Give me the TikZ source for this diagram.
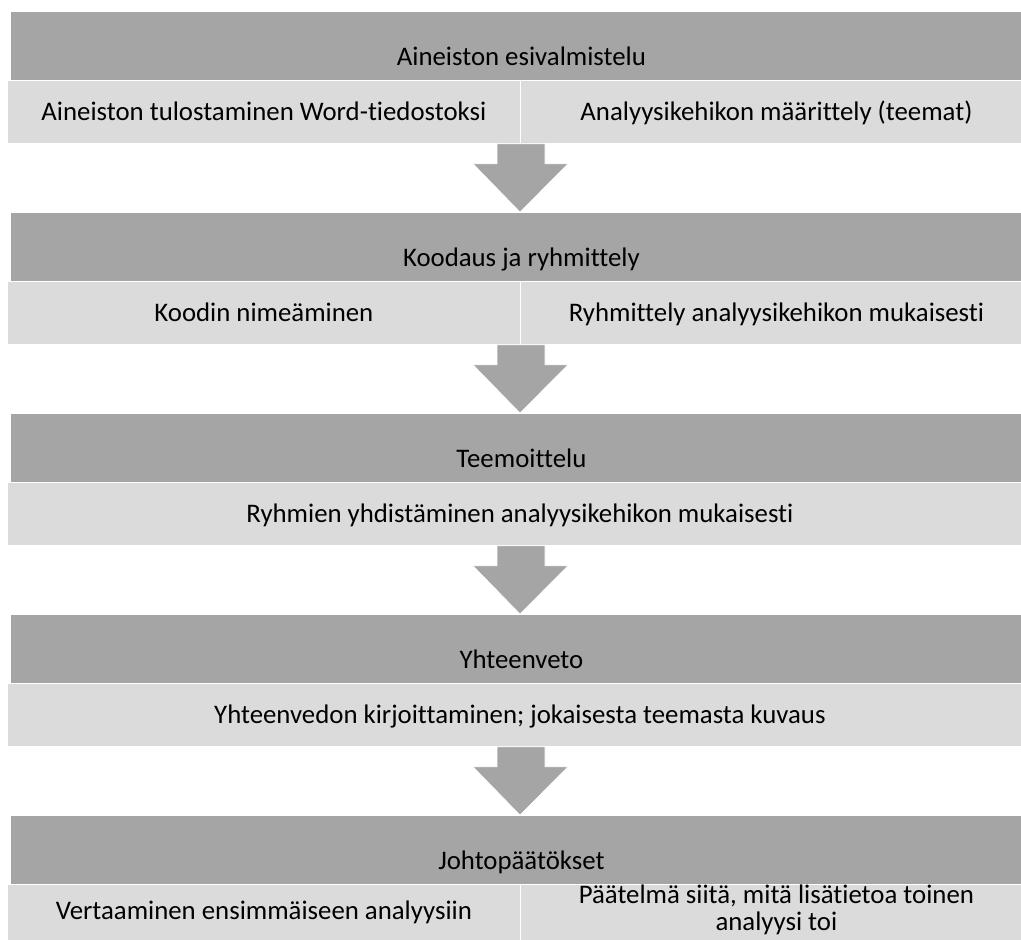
\documentclass[tikz,border=0pt]{standalone}
\usepackage{fontspec}
\setmainfont{Carlito}[Ligatures=NoCommon]
\definecolor{bandgray}{HTML}{A5A5A5}
\definecolor{cellgray}{HTML}{DBDBDB}
\newcommand{\stagefont}{\fontsize{26.8}{26.5}\selectfont}
\tikzset{
  x=1pt, y=-1pt,
  band/.style={rectangle, anchor=north west, fill=bandgray, draw=white, line width=0.8pt,
    minimum width=1022pt, minimum height=69pt, inner sep=0pt,
    text height=54pt, text depth=15pt, font=\stagefont},
  cell/.style={rectangle, anchor=north west, fill=cellgray, draw=white, line width=0.8pt,
    minimum height=63pt, inner sep=0pt,
    text height=40pt, text depth=23pt, font=\stagefont},
  halfL/.style={cell, minimum width=513pt},
  halfR/.style={cell, minimum width=512pt},
  full/.style={cell, minimum width=1025pt},
  flow/.style={fill=bandgray, draw=white, line width=0.6pt, line join=miter}
}
% block arrow from the bottom of one stage to the top of the next
\newcommand{\stagearrow}[2]{%
  \path[flow] ([xshift=-23pt]#1.south -| 520,0) -- ([xshift=-23pt,yshift=-20pt]#1.south -| 520,0)
    -- ([xshift=-47pt,yshift=-20pt]#1.south -| 520,0) -- (#2.north -| 520,0)
    -- ([xshift=48pt,yshift=-20pt]#1.south -| 520,0) -- ([xshift=25pt,yshift=-20pt]#1.south -| 520,0)
    -- ([xshift=25pt]#1.south -| 520,0) -- cycle;}
\begin{document}
\begin{tikzpicture}
\useasboundingbox (0,0) rectangle (1021,940);
\clip (0,0) rectangle (1021,940);

% stage 1
\node[band] (s1) at (10,11) {Aineiston esivalmistelu};
\node[halfL] (s1a) at (7,80) {Aineiston tulostaminen Word-tiedostoksi};
\node[halfR] (s1b) at (520,80) {Analyysikehikon määrittely (teemat)};

% stage 2
\node[band] (s2) at (10,212) {Koodaus ja ryhmittely};
\node[halfL] (s2a) at (7,281) {Koodin nimeäminen};
\node[halfR] (s2b) at (520,281) {Ryhmittely analyysikehikon mukaisesti};

% stage 3
\node[band] (s3) at (10,413) {Teemoittelu};
\node[full] (s3a) at (7,482) {Ryhmien yhdistäminen analyysikehikon mukaisesti};

% stage 4
\node[band] (s4) at (10,614) {Yhteenveto};
\node[full] (s4a) at (7,683) {Yhteenvedon kirjoittaminen; jokaisesta teemasta kuvaus};

% stage 5
\node[band] (s5) at (10,815) {Johtopäätökset};
\node[halfL, text height=35pt, text depth=28pt] (s5a) at (7,884) {Vertaaminen ensimmäiseen analyysiin};
\node[halfR] (s5b) at (520,884) {};
\node[align=center, font=\stagefont, inner sep=0pt] (s5bt)
  at ([yshift=6pt]s5b.center) {Päätelmä siitä, mitä lisätietoa toinen\\analyysi toi};

% arrows between stages
\stagearrow{s1a}{s2}
\stagearrow{s2a}{s3}
\stagearrow{s3a}{s4}
\stagearrow{s4a}{s5}
\end{tikzpicture}
\end{document}
